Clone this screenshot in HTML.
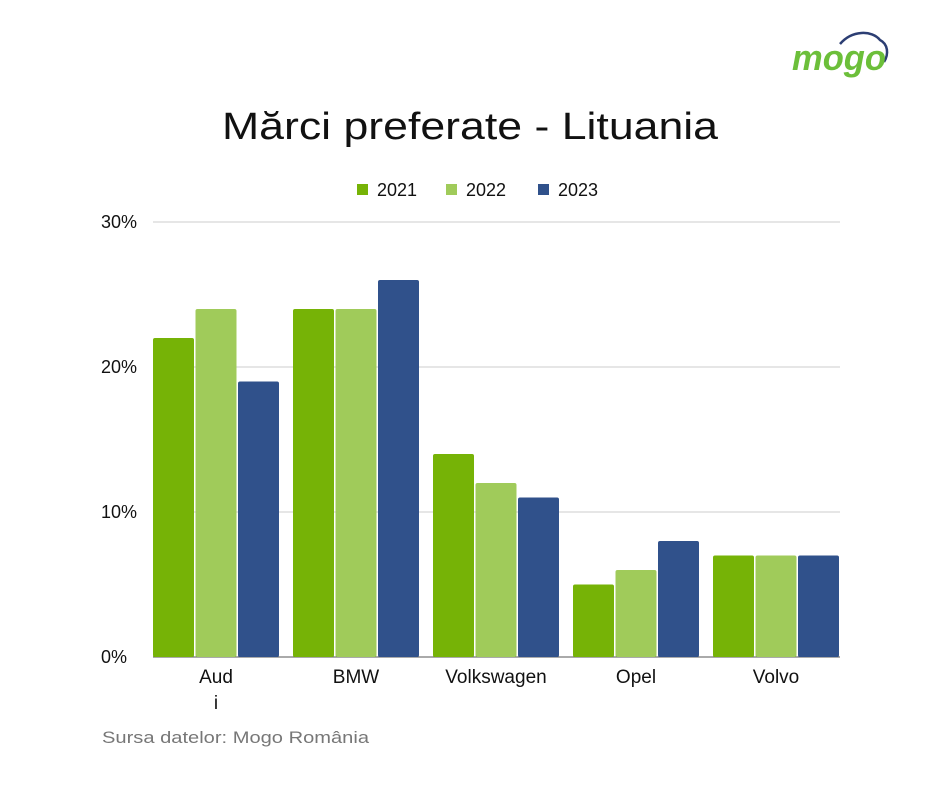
<!DOCTYPE html>
<html><head><meta charset="utf-8"><style>
body{margin:0;background:#fff;font-family:"Liberation Sans",sans-serif;}
#wrap{position:relative;width:940px;height:788px;overflow:hidden;}
</style></head><body>
<div id="wrap">
<svg id="chart" width="940" height="788">
 <g>
  <path d="M840 44 C852 30 872 30 880 40 C888 44 889 54 884 62" fill="none" stroke="#2c3e73" stroke-width="2.5"/>
  <text x="792" y="70" textLength="94" lengthAdjust="spacingAndGlyphs" font-size="36" font-weight="bold" font-style="italic" fill="#6cbf3a">mogo</text>
 </g>
 <text x="222" y="139" textLength="496" lengthAdjust="spacingAndGlyphs" font-size="38" fill="#111">Mărci preferate - Lituania</text>
 <g id="legend"></g>
 <g id="grid"></g>
 <g id="bars"></g>
 <g id="xlabels"></g>
 <text x="102" y="743" textLength="267" lengthAdjust="spacingAndGlyphs" font-size="17" fill="#777">Sursa datelor:  Mogo România</text>
</svg>
</div>
<script>
const categories=["Audi","BMW","Volkswagen","Opel","Volvo"];
const seriesNames=["2021","2022","2023"];
const s2021=[22,24,14,5,7];
const s2022=[24,24,12,6,7];
const s2023=[19,26,11,8,7];
const yTicks=[0,10,20,30];
const yTickLabels=["0%","10%","20%","30%"];
const colors=["#76b306","#a0cb5a","#30518b"];
const NS="http://www.w3.org/2000/svg";
const series=[s2021,s2022,s2023];
const y0=657,yTop=222,yMax=30,xL=153,xR=840,pitch=140,bw=41,bg=1.5;
const y=v=>y0-(v/yMax)*(y0-yTop);
function mk(t,a,p){const e=document.createElementNS(NS,t);for(const k in a)e.setAttribute(k,a[k]);p.appendChild(e);return e;}
const grid=document.getElementById('grid');
yTicks.forEach((t,i)=>{
 const l=mk('line',{x1:xL,x2:xR,y1:y(t),y2:y(t),stroke:t===0?'#555':'#ccc','stroke-width':1},grid);
 
 
 const tx=mk('text',{x:101,y:y(t)+6,'font-size':18,fill:'#111'},grid);tx.textContent=yTickLabels[i];
 
 
});
const bars=document.getElementById('bars');
const xl=document.getElementById('xlabels');
categories.forEach((c,i)=>{
 const gx=xL+i*pitch;
 series.forEach((s,j)=>{
  const r=mk('rect',{x:gx+j*(bw+bg),y:y(s[i]),width:bw,height:y0-y(s[i]),rx:2,fill:colors[j]},bars);
  
  
 });
 const cx=gx+(3*bw+2*bg)/2;
 if(c==="Audi"){
  const t1=mk('text',{x:cx,y:683,'text-anchor':'middle','font-size':19,fill:'#111'},xl);t1.textContent="Aud";
  
  
  const t2=mk('text',{x:cx,y:709,'text-anchor':'middle','font-size':19,fill:'#111'},xl);t2.textContent="i";
  
  
 } else {
  const t=mk('text',{x:cx,y:683,'text-anchor':'middle','font-size':19,fill:'#111'},xl);t.textContent=c;
  
  
 }
});
const lg=document.getElementById('legend');
const lx=[357,446,538];
seriesNames.forEach((n,j)=>{
 const r=mk('rect',{x:lx[j],y:184,width:11,height:11,fill:colors[j]},lg);
 
 
 const t=mk('text',{x:lx[j]+20,y:196,'font-size':18,fill:'#111'},lg);t.textContent=n;
 
 
});
</script>
</body></html>
